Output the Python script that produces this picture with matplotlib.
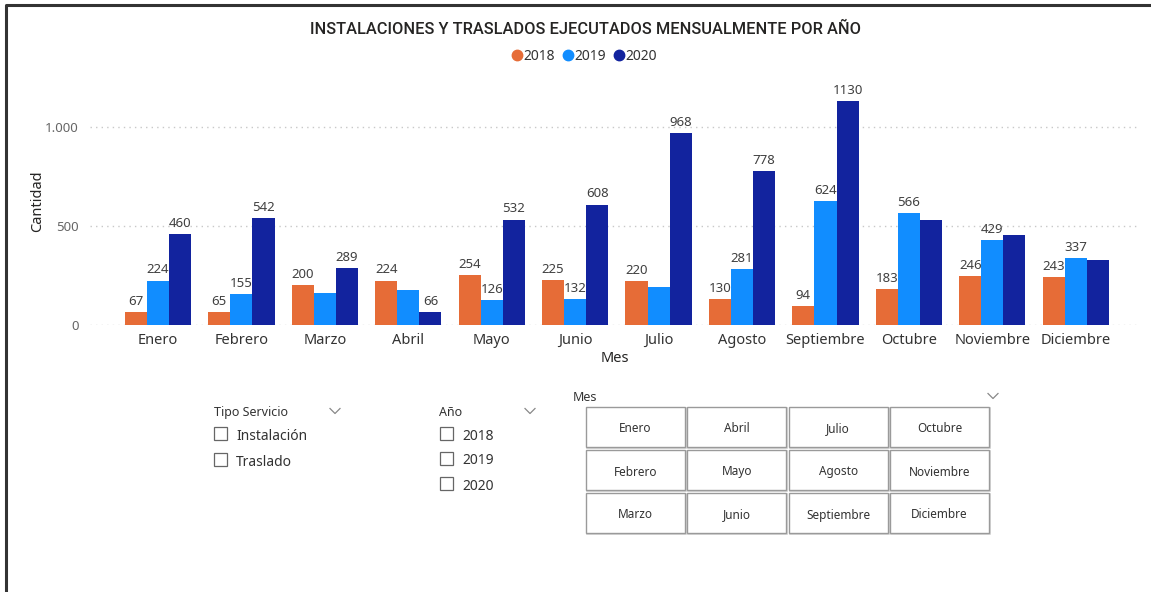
import numpy as np
import matplotlib.pyplot as plt
from matplotlib.patches import Rectangle
from matplotlib.lines import Line2D

# data
meses = ["Enero", "Febrero", "Marzo", "Abril", "Mayo", "Junio", "Julio",
         "Agosto", "Septiembre", "Octubre", "Noviembre", "Diciembre"]
anios = ["2018", "2019", "2020"]
v2018 = [67, 65, 200, 224, 254, 225, 220, 130, 94, 183, 246, 243]
v2019 = [224, 155, 164, 175, 126, 132, 193, 281, 624, 566, 429, 337]
v2020 = [460, 542, 289, 66, 532, 608, 968, 778, 1130, 528, 456, 330]
# which bars carry a data label in the original
lab2018 = [1] * 12
lab2019 = [1, 1, 0, 0, 1, 1, 0, 1, 1, 1, 1, 1]
lab2020 = [1, 1, 1, 1, 1, 1, 1, 1, 1, 0, 0, 0]
colores = ["#E66C37", "#118DFF", "#12239E"]

tipos = ["Instalación", "Traslado"]
slicer_meses = [["Enero", "Abril", "Julio", "Octubre"],
                ["Febrero", "Mayo", "Agosto", "Noviembre"],
                ["Marzo", "Junio", "Septiembre", "Diciembre"]]

plt.rcParams['font.family'] = ['Noto Sans', 'DejaVu Sans']
W, H = 1151, 592
fig = plt.figure(figsize=(W / 100, H / 100), dpi=100)

# main chart
ax = fig.add_axes([90 / W, (H - 325) / H, 1050 / W, 1200 * 198 / 1000 / H])
x = np.arange(len(meses))
bw = 0.265
series = [v2018, v2019, v2020]
labs = [lab2018, lab2019, lab2020]
for i, (vals, lb) in enumerate(zip(series, labs)):
    pos = x + (i - 1) * bw
    ax.bar(pos, vals, width=bw, color=colores[i], zorder=3)
    for p, v, show in zip(pos, vals, lb):
        if show:
            ax.annotate(str(v), (p, v), xytext=(0, 3), textcoords="offset points",
                        ha="center", va="bottom", fontsize=9.5, color="#404040")

ax.set_xlim(-0.815, 11.77)
ax.set_ylim(0, 1200)
ax.set_yticks([0, 500, 1000])
ax.set_yticklabels(["0", "500", "1.000"], color="#666666", fontsize=9.5)
ax.set_xticks(x)
ax.set_xticklabels(meses, fontsize=10.5, color="#333333")
ax.tick_params(length=0, pad=6)
ax.tick_params(axis="y", pad=8)
for s in ax.spines.values():
    s.set_visible(False)
ax.grid(axis="y", linestyle=(0, (1, 3)), color="#c8c8c8", linewidth=1, zorder=0)
ax.set_xlabel("Mes", fontsize=10.5, color="#252423", labelpad=2, fontweight="semibold")
ax.set_ylabel("Cantidad", fontsize=10.5, color="#252423", fontweight="medium")
ax.yaxis.set_label_coords(-0.043, 0.52)

fig.text(585 / W, 1 - 29 / H, "INSTALACIONES Y TRASLADOS EJECUTADOS MENSUALMENTE POR AÑO",
         ha="center", va="center", fontsize=11.8, color="#252423",
         family=["Roboto", "DejaVu Sans"], fontweight="medium")
handles = [Line2D([], [], marker="o", linestyle="none", markersize=7.5,
                  color=c, label=a) for c, a in zip(colores, anios)]
fig.legend(handles=handles, loc="center", bbox_to_anchor=(585 / W, 1 - 56 / H),
           ncol=3, frameon=False, fontsize=10, handlelength=0.5,
           handletextpad=0.2, columnspacing=0.7, labelcolor="#333333")

# overlay for slicers and frame
ov = fig.add_axes([0, 0, 1, 1], zorder=-1)
ov.set_xlim(0, W)
ov.set_ylim(H, 0)
ov.axis("off")
ov.plot([6, 6, W], [H, 5, 5], color="#333333", lw=2.2)

def chevron(cx, cy):
    ov.plot([cx - 5, cx, cx + 5], [cy - 2.5, cy + 2.5, cy - 2.5], color="#888888", lw=0.9)

def checkbox(x0, y0, text):
    ov.add_patch(Rectangle((x0, y0), 13, 13, fill=False, ec="#666666", lw=0.9))
    ov.text(x0 + 22, y0 + 7, text, va="center_baseline", ha="left", fontsize=10, color="#333333")

ov.text(214, 411, "Tipo Servicio", va="center_baseline", fontsize=9, color="#333333", fontweight="semibold")
chevron(335, 411)
for k, t in enumerate(tipos):
    checkbox(214, 427 + k * 26, t)

ov.text(439, 411, "Año", va="center_baseline", fontsize=9, color="#333333", fontweight="semibold")
chevron(530, 411)
for k, t in enumerate(anios):
    checkbox(440, 427 + k * 25, t)

ov.text(573, 396, "Mes", va="center_baseline", fontsize=9, color="#333333", fontweight="semibold")
chevron(993, 396)
for r, fila in enumerate(slicer_meses):
    for c, m in enumerate(fila):
        x0 = 586 + c * 101.3
        y0 = 407 + r * 43
        ov.add_patch(Rectangle((x0 + 1, y0 + 1), 99, 40, fill=False, ec="#d0d0d0", lw=1.2))
        ov.add_patch(Rectangle((x0, y0), 99, 40, fill=True, fc="white", ec="#9a9a9a", lw=1))
        ov.text(x0 + 49.5, y0 + 20.5, m, ha="center", va="center_baseline", fontsize=8.5, color="#333333")

fig.savefig("out.png", dpi=100)
